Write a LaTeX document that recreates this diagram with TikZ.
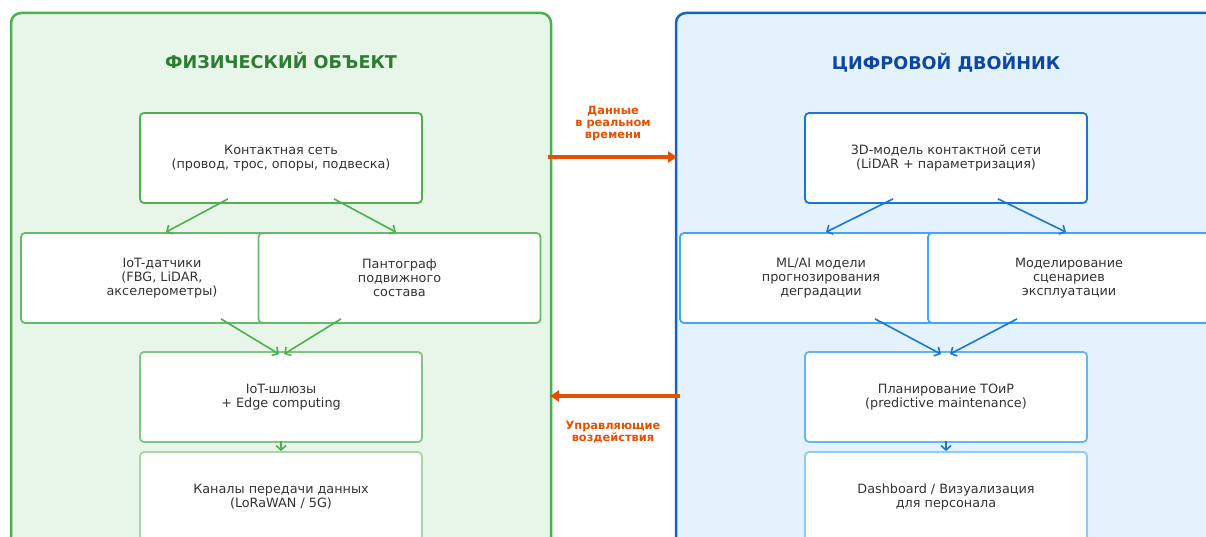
\documentclass[tikz,border=0pt]{standalone}
\usepackage{fontspec}
\setmainfont{DejaVu Sans}
\usetikzlibrary{arrows.meta}
\definecolor{gline}{HTML}{4CAF50}
\definecolor{gfill}{HTML}{E8F5E9}
\definecolor{gtitle}{HTML}{2E7D32}
\definecolor{gtwo}{HTML}{66BB6A}
\definecolor{gthree}{HTML}{81C784}
\definecolor{gfour}{HTML}{A5D6A7}
\definecolor{bline}{HTML}{1565C0}
\definecolor{bfill}{HTML}{E3F2FD}
\definecolor{btitle}{HTML}{0D47A1}
\definecolor{bone}{HTML}{1976D2}
\definecolor{btwo}{HTML}{42A5F5}
\definecolor{bthree}{HTML}{64B5F6}
\definecolor{bfour}{HTML}{90CAF9}
\definecolor{flow}{HTML}{E65100}
\definecolor{txt}{HTML}{333333}

\begin{document}
\begin{tikzpicture}[x=1pt,y=-1pt,
  panel/.style={rounded corners=10pt,line width=2.5pt},
  card/.style={draw,fill=white,rounded corners=4pt,line width=1.8pt,
    minimum width=282pt,minimum height=90pt,inner sep=0pt,align=center,
    text=txt,font=\fontsize{12.8}{13.8}\selectfont},
  title/.style={font=\fontsize{17.6}{20}\selectfont\bfseries},
  garrow/.style={draw=gline,line width=1.6pt,-{Straight Barb[length=4.5pt,width=10pt]}},
  barrow/.style={draw=bone,line width=1.6pt,-{Straight Barb[length=4.5pt,width=10pt]}},
  link/.style={draw=flow,line width=3.5pt,-{Triangle[length=9pt,width=11pt]}},
  linklabel/.style={text=flow,align=center,font=\fontsize{11.4}{12}\selectfont\bfseries}]
  \useasboundingbox (0,0) rectangle (1206,537);
  \clip (0,0) rectangle (1206,537);
  \fill[white] (0,0) rectangle (1206,537);

  \draw[panel,draw=gline,fill=gfill] (11,13) rectangle (551,570);
  \draw[panel,draw=bline,fill=bfill] (676,13) rectangle (1240,570);
  \node[title,text=gtitle] (phys) at (281,60.5) {ФИЗИЧЕСКИЙ ОБЪЕКТ};
  \node[title,text=btitle] (twin) at (946,62.5) {ЦИФРОВОЙ ДВОЙНИК};

  \node[card,draw=gline]  (ks)   at (281,158) {Контактная сеть\\(провод, трос, опоры, подвеска)};
  \node[card,draw=gtwo]   (iot)  at (162,278) {IoT-датчики\\(FBG, LiDAR,\\акселерометры)};
  \node[card,draw=gtwo]   (pant) at (399.5,278) {Пантограф\\подвижного\\состава};
  \node[card,draw=gthree] (gw)   at (281,397) {IoT-шлюзы\\+ Edge computing};
  \node[card,draw=gfour]  (ch)   at (281,497) {Каналы передачи данных\\(LoRaWAN / 5G)};

  \node[card,draw=bone]   (m3d)  at (946,158) {3D-модель контактной сети\\(LiDAR + параметризация)};
  \node[card,draw=btwo]   (ml)   at (821,278) {ML/AI модели\\прогнозирования\\деградации};
  \node[card,draw=btwo]   (sc)   at (1069,278) {Моделирование\\сценариев\\эксплуатации};
  \node[card,draw=bthree] (plan) at (946,397) {Планирование ТОиР\\(predictive maintenance)};
  \node[card,draw=bfour]  (dash) at (946,497) {Dashboard / Визуализация\\для персонала};

  \draw[garrow] ([xshift=-53pt,yshift=5pt]ks.south) -- ([xshift=4pt]iot.north);
  \draw[garrow] ([xshift=53pt,yshift=5pt]ks.south) -- ([xshift=-3.5pt]pant.north);
  \draw[garrow] ([xshift=59pt,yshift=5pt]iot.south) -- ([xshift=-2pt,yshift=-3pt]gw.north);
  \draw[garrow] ([xshift=-58.5pt,yshift=5pt]pant.south) -- ([xshift=3pt,yshift=-3pt]gw.north);
  \draw[garrow] ([yshift=2pt]gw.south) -- (ch.north);

  \draw[barrow] ([xshift=-53pt,yshift=5pt]m3d.south) -- ([xshift=5pt]ml.north);
  \draw[barrow] ([xshift=52pt,yshift=5pt]m3d.south) -- ([xshift=-3pt]sc.north);
  \draw[barrow] ([xshift=54pt,yshift=5pt]ml.south) -- ([xshift=-5pt,yshift=-3pt]plan.north);
  \draw[barrow] ([xshift=-52pt,yshift=5pt]sc.south) -- ([xshift=4pt,yshift=-3pt]plan.north);
  \draw[barrow] ([yshift=2pt]plan.south) -- (dash.north);

  \coordinate (out1) at (548,157);
  \coordinate (in1) at (677,157);
  \coordinate (out2) at (680,396);
  \coordinate (in2) at (550,396);
  \draw[link] (out1) -- (in1);
  \draw[link] (out2) -- (in2);
  \node[linklabel] (datalbl) at (613,124) {Данные\\в реальном\\времени};
  \node[linklabel] (ctrllbl) at (613,432) {Управляющие\\воздействия};
\end{tikzpicture}
\end{document}
